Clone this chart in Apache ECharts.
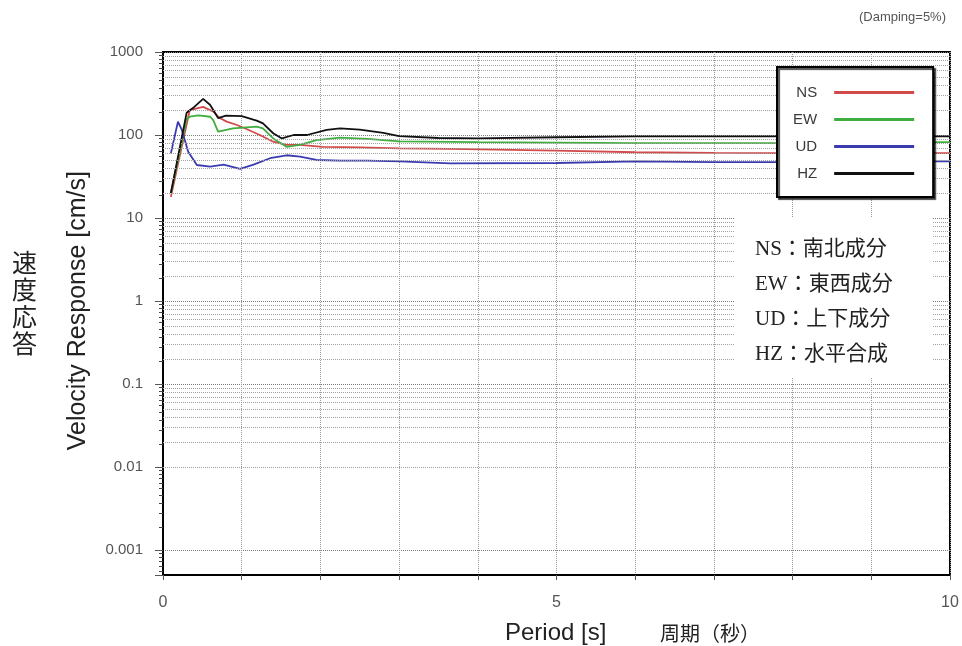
<!DOCTYPE html>
<html><head><meta charset="utf-8">
<script src="https://cdn.jsdelivr.net/npm/echarts@6/dist/echarts.min.js"></script>
<style>html,body{margin:0;padding:0;background:#fff}#c{width:962px;height:646px}</style>
</head><body><div id="c"></div>
<script>
// ---- data ----
const seriesNames = ['NS', 'EW', 'UD', 'HZ'];
const nsPeriod = [0.1, 0.34, 0.51, 0.64, 0.72, 0.81, 0.94, 1.06, 1.23, 1.40, 1.57, 1.74, 2.03, 2.5, 3.0, 3.65, 5, 6, 7, 8, 9, 10];
const nsValue  = [18, 200, 218, 191, 160, 145, 132, 118, 100, 83, 76, 76, 72, 71, 69, 68, 65, 62, 61, 60.5, 60.5, 60.5];
const ewPeriod = [0.1, 0.3, 0.34, 0.45, 0.6, 0.64, 0.70, 0.89, 1.19, 1.27, 1.40, 1.57, 1.74, 1.95, 2.25, 2.6, 3.0, 4, 5, 6, 7, 8, 9, 10];
const ewValue  = [20, 155, 166, 172, 166, 150, 110, 120, 126, 120, 91, 72, 76, 87, 93, 90, 84, 82, 81, 80, 80, 80, 81, 82];
const udPeriod = [0.1, 0.19, 0.24, 0.32, 0.43, 0.6, 0.77, 0.98, 1.15, 1.36, 1.57, 1.74, 1.95, 2.25, 2.59, 3.01, 3.65, 5, 6, 7, 8, 9, 10];
const udValue  = [60, 145, 115, 63, 43.5, 41.5, 44, 39, 44, 52.5, 57, 55, 50, 49, 49, 48, 45.6, 46, 48, 47, 47, 48, 48];
const hzPeriod = [0.1, 0.3, 0.38, 0.51, 0.6, 0.7, 0.8, 1.0, 1.19, 1.27, 1.40, 1.51, 1.66, 1.83, 2.08, 2.25, 2.5, 2.8, 3.0, 3.5, 4, 5, 6, 7, 8, 9, 10];
const hzValue  = [20, 185, 211, 272, 230, 160, 171, 169, 149, 138, 105, 91, 100, 100, 115, 120, 116, 106, 97, 92, 91, 94, 96, 96, 96, 96, 96];
const noteLines = ['NS：南北成分', 'EW：東西成分', 'UD：上下成分', 'HZ：水平合成'];
const xTickLabels = [0, 5, 10];
const yMin = 0.0005, yMax = 1000;

// minor log grid values (2..9 per decade)
const minorGrid = [];
for (let e = -4; e <= 2; e++) {
  for (let m = 2; m <= 9; m++) {
    const v = Number((m * Math.pow(10, e)).toPrecision(6));
    if (v >= yMin && v < yMax) minorGrid.push(v);
  }
}

const colors = { NS: '#d24a4a', EW: '#3fae3f', UD: '#3b3bb0', HZ: '#111111' };
const pair = (p, v) => p.map((x, i) => [x, v[i]]);
const dataMap = { NS: pair(nsPeriod, nsValue), EW: pair(ewPeriod, ewValue), UD: pair(udPeriod, udValue), HZ: pair(hzPeriod, hzValue) };

const chart = echarts.init(document.getElementById('c'));
const font = 'Liberation Sans, Arial, sans-serif';

const series = [{
  name: 'grid', type: 'line', data: [], silent: true, z: 1,
  markLine: {
    silent: true, symbol: 'none', animation: false,
    label: { show: false },
    lineStyle: { color: '#a2a2a2', type: 'dotted', width: 1 },
    data: minorGrid.map(v => ({ yAxis: v }))
  }
}].concat(seriesNames.map(n => ({
  name: n, type: 'line', data: dataMap[n], showSymbol: false, symbol: 'none',
  lineStyle: { color: colors[n], width: 1.8 }, itemStyle: { color: colors[n] },
  z: 3, animation: false
})));

chart.setOption({
  animation: false,
  textStyle: { fontFamily: font },
  grid: { left: 163, right: 12, top: 52, bottom: 71, show: true, borderColor: '#000', borderWidth: 2, backgroundColor: 'transparent' },
  xAxis: {
    type: 'value', min: 0, max: 10, interval: 1,
    axisLine: { lineStyle: { color: '#000', width: 2 } },
    axisTick: { show: true, length: 5, lineStyle: { color: '#555' } },
    axisLabel: { margin: 20, color: '#555', fontSize: 16, fontFamily: font,
      formatter: v => (xTickLabels.indexOf(v) >= 0 ? String(v) : '') },
    splitLine: { show: true, lineStyle: { color: '#999', type: 'dotted', width: 1 } }
  },
  yAxis: {
    type: 'log', logBase: 10, min: yMin, max: yMax,
    axisLine: { show: true, lineStyle: { color: '#000', width: 2 } },
    axisTick: { show: true, length: 8, lineStyle: { color: '#555' } },
    minorTick: { show: true, splitNumber: 10, length: 4, lineStyle: { color: '#444' } },
    axisLabel: { margin: 20, color: '#555', fontSize: 15, fontFamily: font,
      formatter: v => {
        const l = Math.log10(v);
        if (Math.abs(l - Math.round(l)) > 1e-6) return '';
        return String(Number(v.toPrecision(6)));
      } },
    splitLine: { show: true, lineStyle: { color: '#7c7c7c', type: 'dotted', width: 1 } }
  },
  legend: {
    data: seriesNames, orient: 'vertical', left: 777, top: 67,
    align: 'right', icon: 'rect', itemWidth: 80, itemHeight: 3, itemGap: 12,
    padding: [18, 19, 16, 16],
    backgroundColor: '#fff', borderColor: '#000', borderWidth: 2,
    shadowColor: 'rgba(0,0,0,0.7)', shadowOffsetX: 2, shadowOffsetY: 2, shadowBlur: 1,
    textStyle: { fontSize: 15, color: '#3a3a3a', fontFamily: font, padding: [0, 12, 0, 0] },
    selectedMode: false, z: 20
  },
  graphic: [
    { type: 'rect', z: 50, shape: { x: 735, y: 218, width: 197, height: 159 }, style: { fill: '#fff' } },
    ...noteLines.map((t, i) => ({
      type: 'text', z: 51, left: 755, top: 239 + i * 35,
      style: { text: t, fontSize: 21, fill: '#222', fontFamily: 'Liberation Serif, Noto Sans CJK JP, serif' }
    })),
    { type: 'text', z: 51, right: 16, top: 11, style: { text: '(Damping=5%)', fontSize: 13, fill: '#555', fontFamily: font } },
    { type: 'text', z: 51, left: 66, top: 171, rotation: Math.PI / 2,
      style: { text: 'Velocity Response [cm/s]', fontSize: 25, fill: '#222', fontFamily: font } },
    { type: 'text', z: 51, left: 12, top: 249,
      style: { text: '速\n度\n応\n答', fontSize: 25, lineHeight: 27, fill: '#222', fontFamily: 'Noto Sans CJK JP' } },
    { type: 'text', z: 51, left: 505, top: 621, style: { text: 'Period [s]', fontSize: 24, fill: '#222', fontFamily: font } },
    { type: 'text', z: 51, left: 660, top: 623, style: { text: '周期（秒）', fontSize: 20, fill: '#222', fontFamily: 'Noto Sans CJK JP' } }
  ],
  series: series
});
</script></body></html>
